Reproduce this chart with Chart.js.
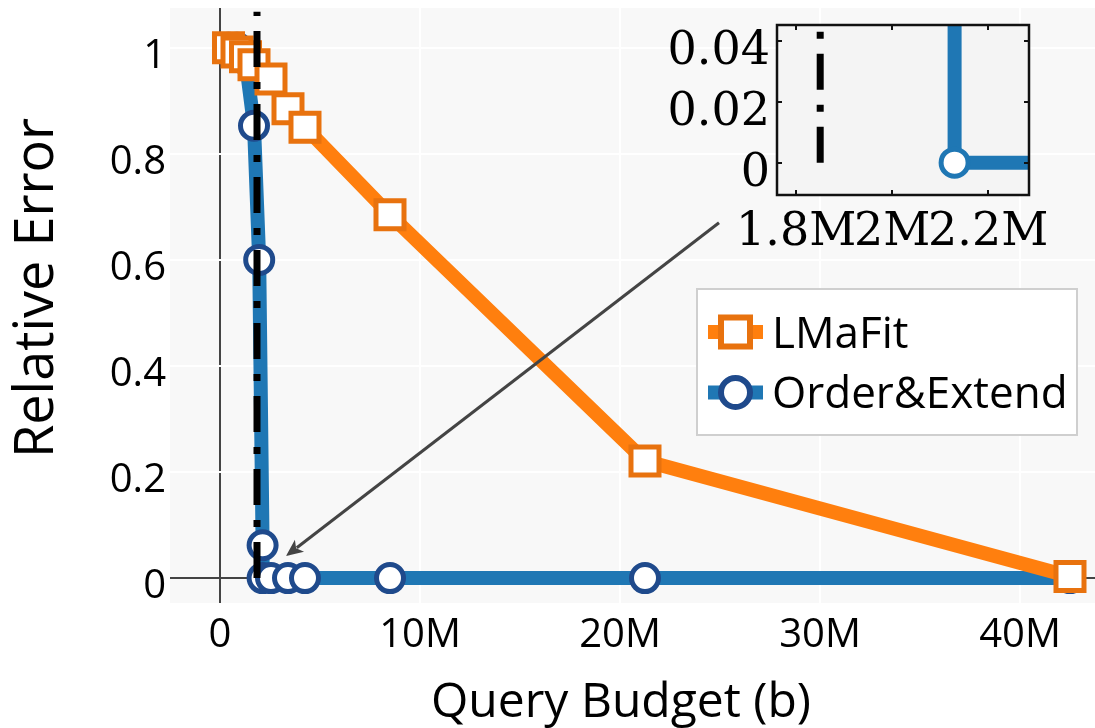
<!DOCTYPE html>
<html>
<head>
<meta charset="utf-8">
<script src="https://cdn.jsdelivr.net/npm/chart.js@4.4.1/dist/chart.umd.min.js"></script>
<style>
html,body{margin:0;padding:0;background:#fff;overflow:hidden;}
#wrap{position:relative;width:1095px;height:728px;}
#main{position:absolute;left:0;top:0;width:1095px;height:728px;}
#inset{position:absolute;left:640px;top:0;width:420px;height:260px;}
</style>
</head>
<body>
<div id="wrap">
<canvas id="main" width="1095" height="728"></canvas>
<canvas id="inset" width="420" height="260"></canvas>
</div>
<script>
// ---- data (budgets in millions) ----
const seriesNames = ['LMaFit', 'Order&Extend'];
const lmafitBudgetM = [0.425, 0.85, 1.275, 1.7, 2.55, 3.4, 4.25, 8.5, 21.25, 42.5];
const lmafitError   = [1.0, 0.992, 0.983, 0.968, 0.941, 0.885, 0.850, 0.685, 0.221, 0.003];
const oeBudgetM = [0.425, 0.85, 1.275, 1.7, 1.96, 2.13, 2.13, 2.55, 3.4, 4.25, 8.5, 21.25, 42.5];
const oeError   = [1.0, 1.0, 0.978, 0.853, 0.6, 0.062, 0, 0, 0, 0, 0, 0, 0];
const thresholdBudgetM = [1.85, 1.85];
const thresholdError   = [0, 1.068];
const xTickValues = [0, 10, 20, 30, 40];
const xTickLabels = ['0', '10M', '20M', '30M', '40M'];
const yTickValues = [0, 0.2, 0.4, 0.6, 0.8, 1];
const yTickLabels = ['0', '0.2', '0.4', '0.6', '0.8', '1'];
const insetXTickValues = [1.8, 2.0, 2.2];
const insetXTickLabels = ['1.8M', '2M', '2.2M'];
const insetYTickValues = [0, 0.02, 0.04];
const insetYTickLabels = ['0', '0.02', '0.04'];
const arrowFrom = [24.95, 0.67];
const arrowTo = [3.3, 0.0415];
const axisTitles = {x: 'Query Budget (b)', y: 'Relative Error'};

const toPoints = (xs, ys) => xs.map((x, i) => ({x: x, y: ys[i]}));
const SANS = "'Open Sans', sans-serif";
const SERIF = "'DejaVu Serif', serif";
Chart.defaults.font.family = SANS;

const thresholdStyle = {borderColor: '#000', borderWidth: 7, borderDash: [36, 15, 7, 15], borderCapStyle: 'butt', pointRadius: 0, clip: 0};

const mainDecor = {
  id: 'mainDecor',
  beforeDraw(chart) {
    const a = chart.chartArea, ctx = chart.ctx;
    ctx.save();
    ctx.fillStyle = '#f8f8f8';
    ctx.fillRect(a.left, a.top, a.right - a.left, a.bottom - a.top);
    ctx.restore();
  },
  afterDatasetsDraw(chart) {
    const ctx = chart.ctx, xs = chart.scales.x, ys = chart.scales.y;
    const x1 = xs.getPixelForValue(arrowFrom[0]), y1 = ys.getPixelForValue(arrowFrom[1]);
    const x2 = xs.getPixelForValue(arrowTo[0]), y2 = ys.getPixelForValue(arrowTo[1]);
    const ang = Math.atan2(y2 - y1, x2 - x1), c = Math.cos(ang), s = Math.sin(ang);
    const hl = 17, hw = 7.5;
    ctx.save();
    ctx.strokeStyle = '#444'; ctx.fillStyle = '#444'; ctx.lineWidth = 3;
    ctx.beginPath(); ctx.moveTo(x1, y1); ctx.lineTo(x2 - c * hl * 0.8, y2 - s * hl * 0.8); ctx.stroke();
    ctx.beginPath();
    ctx.moveTo(x2, y2);
    ctx.lineTo(x2 - c * hl + s * hw, y2 - s * hl - c * hw);
    ctx.lineTo(x2 - c * hl * 0.75, y2 - s * hl * 0.75);
    ctx.lineTo(x2 - c * hl - s * hw, y2 - s * hl + c * hw);
    ctx.closePath(); ctx.fill();
    ctx.restore();
  },
  afterDraw(chart) {
    const ctx = chart.ctx;
    ctx.save();
    // axis titles
    ctx.fillStyle = '#000';
    ctx.textAlign = 'center'; ctx.textBaseline = 'alphabetic';
    ctx.font = '48px ' + SANS;
    ctx.fillText(axisTitles.x, 621, 717);
    ctx.save();
    ctx.font = '54px ' + SANS;
    ctx.translate(53, 288); ctx.rotate(-Math.PI / 2);
    ctx.fillText(axisTitles.y, 0, 0);
    ctx.restore();
    // legend
    const bx = 697, by = 289, bw = 380, bh = 146;
    ctx.fillStyle = '#fff'; ctx.fillRect(bx, by, bw, bh);
    ctx.strokeStyle = '#cfcfcf'; ctx.lineWidth = 2; ctx.strokeRect(bx, by, bw, bh);
    const rows = [332, 392.5];
    [1, 2].forEach((di, k) => {
      const ds = chart.data.datasets[di], y = rows[k];
      ctx.strokeStyle = ds.borderColor; ctx.lineWidth = ds.borderWidth; ctx.lineCap = 'butt';
      ctx.beginPath(); ctx.moveTo(708, y); ctx.lineTo(763, y); ctx.stroke();
      ctx.fillStyle = ds.pointBackgroundColor; ctx.strokeStyle = ds.pointBorderColor; ctx.lineWidth = ds.pointBorderWidth + 1;
      ctx.beginPath();
      if (ds.pointStyle === 'rect') { ctx.rect(735.5 - 14.5, y - 14.5, 29, 29); }
      else { ctx.arc(735.5, y, 14.5, 0, Math.PI * 2); }
      ctx.fill(); ctx.stroke();
      ctx.fillStyle = '#000'; ctx.font = '44px ' + SANS; ctx.textAlign = 'left'; ctx.textBaseline = 'alphabetic';
      ctx.fillText(ds.label, 772, y + 15.5);
    });
    ctx.restore();
  }
};

const gridColor = (c) => (c.tick && c.tick.value === 0) ? '#444' : '#ffffff';

new Chart(document.getElementById('main'), {
  type: 'line',
  data: {
    datasets: [
      Object.assign({label: 'threshold', data: toPoints(thresholdBudgetM, thresholdError)}, thresholdStyle),
      {label: seriesNames[0], data: toPoints(lmafitBudgetM, lmafitError), borderColor: '#ff7f0e', borderWidth: 14,
       pointStyle: 'rect', pointRadius: 19.8, pointBorderWidth: 5, pointBorderColor: '#e8720e', pointBackgroundColor: '#ffffff', clip: 0},
      {label: seriesNames[1], data: toPoints(oeBudgetM, oeError), borderColor: '#1f77b4', borderWidth: 14,
       pointStyle: 'circle', pointRadius: 13.5, pointBorderWidth: 5, pointBorderColor: '#1f4a8c', pointBackgroundColor: '#ffffff', clip: 0}
    ]
  },
  options: {
    responsive: false, animation: false, events: [],
    layout: {autoPadding: false, padding: {left: 0, right: 0, top: 8, bottom: 0}},
    plugins: {legend: {display: false}, tooltip: {enabled: false}},
    scales: {
      x: {type: 'linear', min: -2.5, max: 43.75,
        afterBuildTicks: s => { s.ticks = xTickValues.map(v => ({value: v})); },
        afterFit: s => { s.height = 125; s.paddingLeft = 0; s.paddingRight = 0; },
        ticks: {autoSkip: false, maxRotation: 0, padding: 9, color: '#000', font: {size: 40}, callback: (v, i) => xTickLabels[i]},
        grid: {color: gridColor, lineWidth: 2, drawTicks: false}, border: {display: false}},
      y: {type: 'linear', min: -0.047, max: 1.075,
        afterBuildTicks: s => { s.ticks = yTickValues.map(v => ({value: v})); },
        afterFit: s => { s.width = 170; s.paddingTop = 0; s.paddingBottom = 0; },
        ticks: {padding: 4, labelOffset: 9, color: '#000', font: {size: 40}, callback: (v, i) => yTickLabels[i]},
        grid: {color: gridColor, lineWidth: 2, drawTicks: false}, border: {display: false}}
    }
  },
  plugins: [mainDecor]
});

const insetDecor = {
  id: 'insetDecor',
  beforeDraw(chart) {
    const a = chart.chartArea, ctx = chart.ctx;
    ctx.save(); ctx.fillStyle = '#f4f4f4';
    ctx.fillRect(a.left, a.top, a.right - a.left, a.bottom - a.top); ctx.restore();
  },
  afterDraw(chart) {
    const a = chart.chartArea, ctx = chart.ctx, xs = chart.scales.x, ys = chart.scales.y;
    ctx.save();
    ctx.strokeStyle = '#111'; ctx.lineWidth = 2; ctx.lineCap = 'butt';
    ctx.beginPath();
    xs.ticks.forEach(t => { const p = Math.round(xs.getPixelForValue(t.value));
      ctx.moveTo(p, a.bottom); ctx.lineTo(p, a.bottom - 5); ctx.moveTo(p, a.top); ctx.lineTo(p, a.top + 5); });
    ys.ticks.forEach(t => { const p = Math.round(ys.getPixelForValue(t.value));
      ctx.moveTo(a.left, p); ctx.lineTo(a.left + 5, p); ctx.moveTo(a.right, p); ctx.lineTo(a.right - 5, p); });
    ctx.stroke();
    ctx.lineWidth = 2.5; ctx.strokeStyle = '#111';
    ctx.strokeRect(a.left, a.top, a.right - a.left, a.bottom - a.top);
    ctx.restore();
  }
};

new Chart(document.getElementById('inset'), {
  type: 'line',
  data: {
    datasets: [
      Object.assign({label: 'threshold', data: toPoints(thresholdBudgetM, thresholdError)}, thresholdStyle),
      {label: seriesNames[1], data: toPoints(oeBudgetM, oeError), borderColor: '#1f77b4', borderWidth: 14,
       pointStyle: 'circle', pointRadius: 13.5, pointBorderWidth: 5, pointBorderColor: '#1f77b4', pointBackgroundColor: '#ffffff', clip: 0}
    ]
  },
  options: {
    responsive: false, animation: false, events: [],
    layout: {autoPadding: false, padding: {left: 0, right: 31, top: 25, bottom: 0}},
    plugins: {legend: {display: false}, tooltip: {enabled: false}},
    scales: {
      x: {type: 'linear', min: 1.76, max: 2.285,
        afterBuildTicks: s => { s.ticks = insetXTickValues.map(v => ({value: v})); },
        afterFit: s => { s.height = 65; s.paddingLeft = 0; s.paddingRight = 0; },
        ticks: {autoSkip: false, maxRotation: 0, padding: 10, color: '#000', font: {family: SERIF, size: 46}, callback: (v, i) => insetXTickLabels[i]},
        grid: {display: false, drawTicks: false}, border: {display: false}},
      y: {type: 'linear', min: -0.0106, max: 0.0451,
        afterBuildTicks: s => { s.ticks = insetYTickValues.map(v => ({value: v})); },
        afterFit: s => { s.width = 137; s.paddingTop = 0; s.paddingBottom = 0; },
        ticks: {padding: 7, labelOffset: 11, color: '#000', font: {family: SERIF, size: 46}, callback: (v, i) => insetYTickLabels[i]},
        grid: {display: false, drawTicks: false}, border: {display: false}}
    }
  },
  plugins: [insetDecor]
});
</script>
</body>
</html>
